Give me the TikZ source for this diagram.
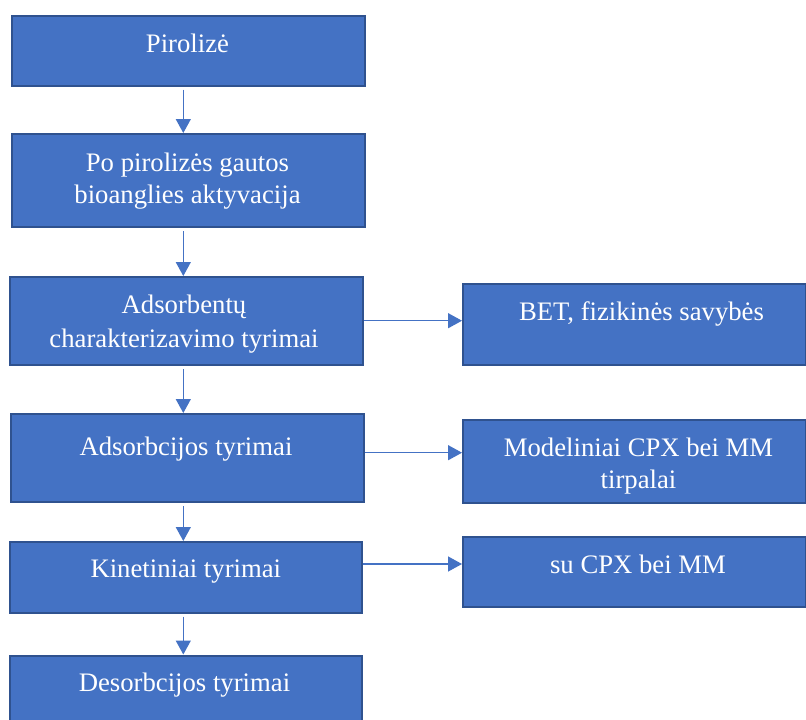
\documentclass[tikz,border=0pt]{standalone}
\usepackage{fontspec}
\setmainfont{Liberation Serif}
\usetikzlibrary{arrows.meta,calc}
\definecolor{boxfill}{HTML}{4472C4}
\definecolor{boxline}{HTML}{2F528F}
\begin{document}
\begin{tikzpicture}[x=1pt,y=-1pt,
  box/.style={draw=boxline,fill=boxfill,line width=2.2pt,inner sep=0pt,anchor=north west},
  txt/.style={text=white,inner sep=0pt,anchor=base,font=\fontsize{26.7}{33}\selectfont},
  conn/.style={draw=boxfill,line width=1.3pt,-{Triangle[length=14pt,width=15pt]}}]
\clip (0,0) rectangle (806,720);
\fill[white] (0,0) rectangle (806,720);
% left column
\node[box,minimum width=353pt,minimum height=69.5pt] (b1) at (11,15) {};
\node[box,minimum width=353pt,minimum height=93pt] (b2) at (11,133) {};
\node[box,minimum width=353pt,minimum height=88pt] (b3) at (9,276) {};
\node[box,minimum width=353pt,minimum height=88pt] (b4) at (9.5,413) {};
\node[box,minimum width=352pt,minimum height=70.5pt] (b5) at (9,541) {};
\node[box,minimum width=352.5pt,minimum height=76pt] (b6) at (8.5,654.5) {};
% right column
\node[box,minimum width=343pt,minimum height=81pt] (r1) at (462,283) {};
\node[box,minimum width=343pt,minimum height=82.5pt] (r2) at (462,419) {};
\node[box,minimum width=343pt,minimum height=70pt] (r3) at (462,536) {};
% texts
\node[txt] (t1) at (187.5,52.3) {Pirolizė};
\node[txt] (t2a) at (187.5,171) {Po pirolizės gautos};
\node[txt] (t2b) at (187.5,203.5) {bioanglies aktyvacija};
\node[txt] (t3a) at (184,313.3) {Adsorbentų};
\node[txt] (t3b) at (184,347.3) {charakterizavimo tyrimai};
\node[txt] (t4) at (186,455) {Adsorbcijos tyrimai};
\node[txt] (t5) at (185.8,577.7) {Kinetiniai tyrimai};
\node[txt] (t6) at (184.5,691.7) {Desorbcijos tyrimai};
\node[txt] (u1) at (641.5,320) {BET, fizikinės savybės};
\node[txt] (u2a) at (638.5,456.7) {Modeliniai CPX bei MM};
\node[txt] (u2b) at (638.5,488.3) {tirpalai};
\node[txt] (u3) at (638,573.3) {su CPX bei MM};
% connectors
\coordinate (ax) at (183.3,0);
\coordinate (h1) at (0,320.7);
\coordinate (h2) at (0,452.7);
\coordinate (h3) at (0,564);
\draw[conn,shorten <=3pt] (b1.south -| ax) -- (b2.north -| ax);
\draw[conn,shorten <=3pt] (b2.south -| ax) -- (b3.north -| ax);
\draw[conn,shorten <=3pt] (b3.south -| ax) -- (b4.north -| ax);
\draw[conn,shorten <=3pt] (b4.south -| ax) -- (b5.north -| ax);
\draw[conn,shorten <=3pt] (b5.south -| ax) -- (b6.north -| ax);
\draw[conn] (b3.east |- h1) -- (r1.west |- h1);
\draw[conn] (b4.east |- h2) -- (r2.west |- h2);
\draw[conn] (b5.east |- h3) -- (r3.west |- h3);
\end{tikzpicture}
\end{document}
